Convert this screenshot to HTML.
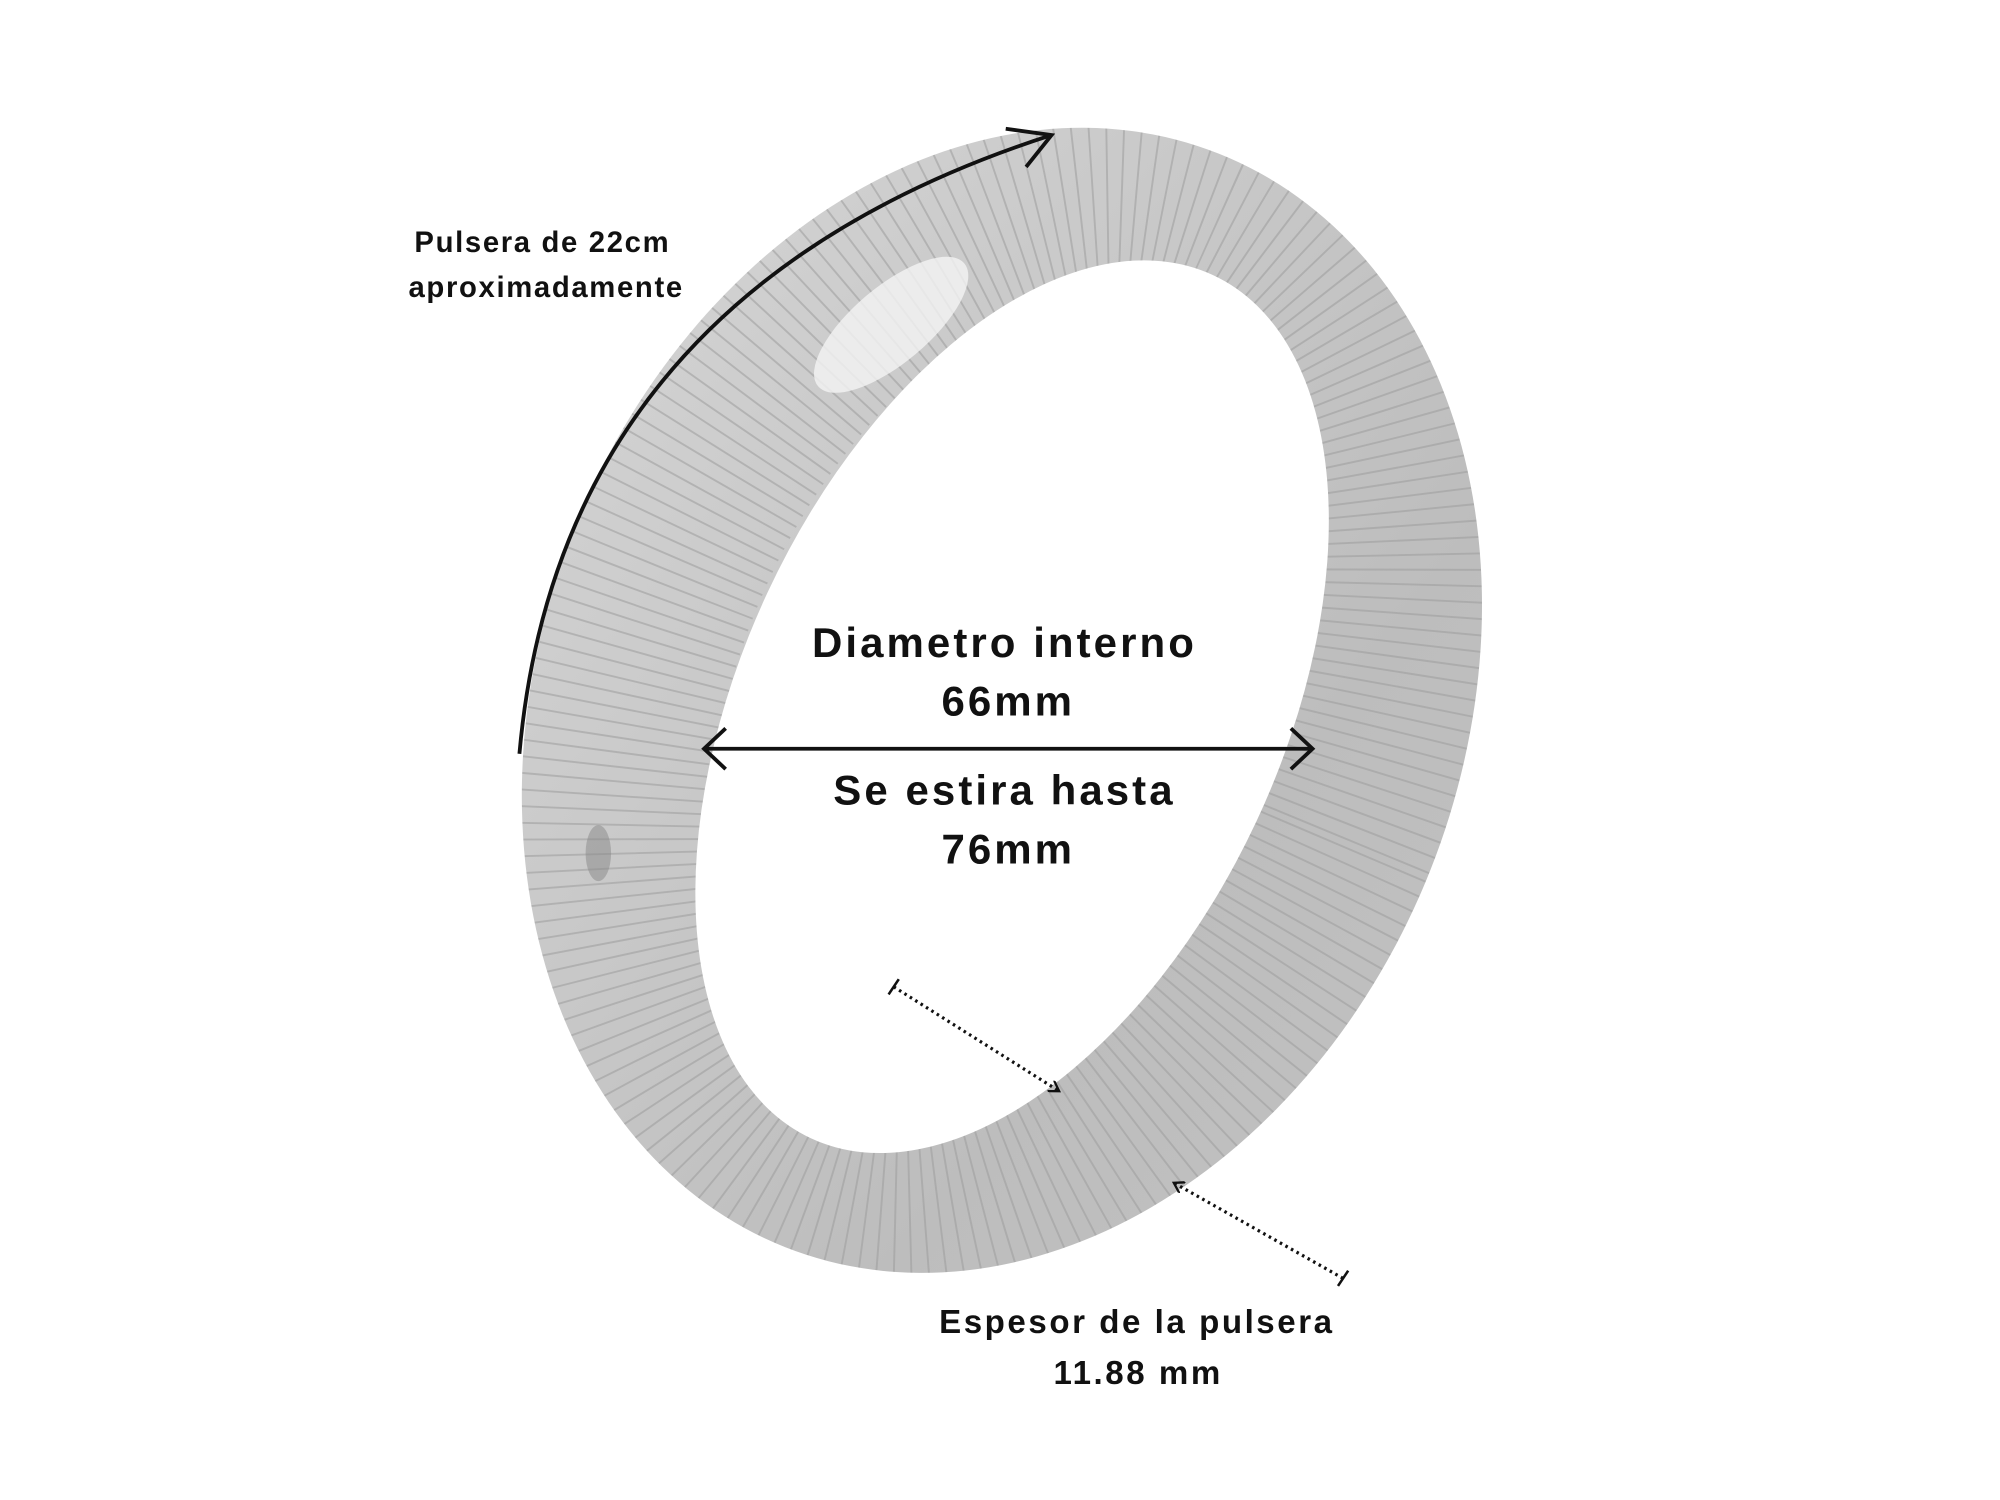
<!DOCTYPE html>
<html><head><meta charset="utf-8"><style>
html,body{margin:0;padding:0;background:#fff;}
svg{display:block;}
text{font-family:"Liberation Sans",sans-serif;font-weight:bold;fill:#111;text-anchor:middle;}
</style></head><body>
<svg width="2000" height="1500" viewBox="0 0 1571 1178" xmlns="http://www.w3.org/2000/svg">
<defs>
<linearGradient id="g" x1="0" y1="0" x2="1" y2="0.6">
<stop offset="0" stop-color="#dadada"/><stop offset="0.35" stop-color="#d0d0d0"/>
<stop offset="0.7" stop-color="#bdbdbd"/><stop offset="1" stop-color="#c4c4c4"/></linearGradient>
<mask id="ring">
<rect width="1571" height="1178" fill="#000"/>
<ellipse cx="787" cy="550" rx="362" ry="462" transform="rotate(21.6 787 550)" fill="#fff"/>
<ellipse cx="795" cy="555" rx="212" ry="374" transform="rotate(25 795 555)" fill="#000"/>
</mask>
<marker id="ah" markerWidth="10" markerHeight="10" refX="8" refY="5" orient="auto" markerUnits="userSpaceOnUse">
<path d="M0,0 L8,5 L0,10" fill="none" stroke="#111" stroke-width="1.8"/></marker>
</defs>
<g mask="url(#ring)">
<rect width="1571" height="1178" fill="url(#g)"/>
<ellipse cx="791" cy="552" rx="290" ry="420" transform="rotate(23 791 552)" fill="none" stroke="#9c9c9c" stroke-width="160" stroke-dasharray="1.5 10" opacity="0.55"/>
<ellipse cx="700" cy="255" rx="30" ry="75" fill="#f4f4f4" opacity="0.8" transform="rotate(50 700 255)"/>
<ellipse cx="470" cy="670" rx="10" ry="22" fill="#888" opacity="0.5"/>
</g>
<!-- arrows -->
<path d="M408,592 Q440,230 826,106" fill="none" stroke="#111" stroke-width="3"/>
<path d="M790,101 L826,106 L806,131" fill="none" stroke="#111" stroke-width="3"/>
<line x1="553" y1="588" x2="1031" y2="588" stroke="#111" stroke-width="3"/>
<path d="M570,572 L553,588 L570,604 M1014,572 L1031,588 L1014,604" fill="none" stroke="#111" stroke-width="3"/>
<line x1="702" y1="775" x2="832" y2="857" stroke="#111" stroke-width="2.5" stroke-dasharray="2 3" marker-end="url(#ah)"/>
<line x1="698" y1="781" x2="706" y2="769" stroke="#111" stroke-width="2"/>
<line x1="1055" y1="1004" x2="922" y2="929" stroke="#111" stroke-width="2.5" stroke-dasharray="2 3" marker-end="url(#ah)"/>
<line x1="1051" y1="1010" x2="1059" y2="998" stroke="#111" stroke-width="2"/>
<!-- text -->
<text x="426" y="198" font-size="23" letter-spacing="1.3">Pulsera de 22cm</text>
<text x="429" y="233" font-size="23" letter-spacing="1.3">aproximadamente</text>
<text x="789" y="516" font-size="33" letter-spacing="2.4">Diametro interno</text>
<text x="792" y="562" font-size="33" letter-spacing="2.4">66mm</text>
<text x="789" y="632" font-size="33" letter-spacing="2.4">Se estira hasta</text>
<text x="792" y="678" font-size="33" letter-spacing="2.4">76mm</text>
<text x="893" y="1047" font-size="26" letter-spacing="2">Espesor de la pulsera</text>
<text x="894" y="1087" font-size="26" letter-spacing="2">11.88 mm</text>
</svg>
</body></html>
